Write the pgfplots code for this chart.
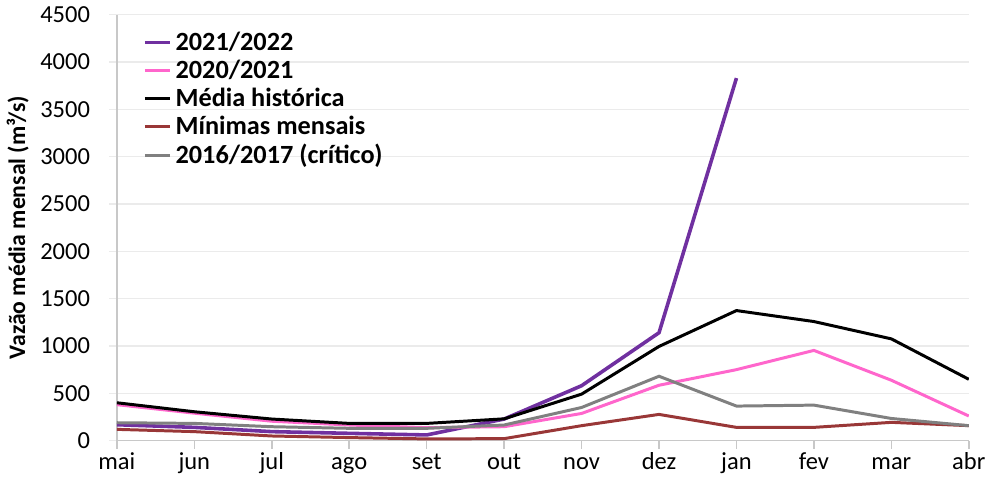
\documentclass[border=0pt]{standalone}
\usepackage{fontspec}
\setmainfont{Carlito}
\usepackage{pgfplots}
\pgfplotsset{compat=1.18}
\definecolor{roxo}{HTML}{7030A0}
\definecolor{rosa}{HTML}{FF66CC}
\definecolor{vermelho}{HTML}{993737}
\definecolor{cinza}{HTML}{808080}
\definecolor{grade}{HTML}{EBEBEB}
\definecolor{eixo}{HTML}{C8C8C8}
\begin{document}
\begin{tikzpicture}
\begin{axis}[
    scale only axis,
    width=428pt, height=214pt,
    xmin=0, xmax=11, ymin=0, ymax=4500,
    axis lines=left,
    axis line style={eixo, line width=0.8pt, -},
    xtick={0,...,11},
    xticklabels={mai,jun,jul,ago,set,out,nov,dez,jan,fev,mar,abr},
    ytick={0,500,...,4500},
    ymajorgrids,
    grid style={grade, line width=0.6pt},
    x tick style={eixo, line width=0.8pt},
    y tick style={grade, line width=0.6pt},
    tick align=outside,
    major tick length=4pt,
    tick label style={font=\fontsize{12.3}{14}\selectfont},
    x tick label style={text height=0.72em, text depth=0.22em, inner ysep=3pt},
    y tick label style={xshift=-6pt},
    /pgf/number format/assume math mode=true,
    /pgf/number format/1000 sep={},
    ylabel={\textbf{Vazão média mensal (m³/s)}},
    ylabel style={font=\fontsize{11.9}{13}\selectfont, yshift=-1pt},
    legend style={at={(0.028,0.975)}, anchor=north west, draw=none, fill=none,
      font=\fontsize{13.2}{15}\selectfont\bfseries, row sep=-0.6pt,
      inner sep=1pt},
    legend cell align=left,
    legend image code/.code={\draw[#1] (0pt,0pt) -- (12.5pt,0pt);},
]
\addplot[roxo, line width=1.8pt] coordinates {
  (0,168) (1,140) (2,95) (3,77) (4,60) (5,228) (6,580) (7,1140) (8,3830)
};
\addlegendentry{2021/2022}
\addplot[rosa, line width=1.5pt] coordinates {
  (0,380) (1,290) (2,205) (3,165) (4,137) (5,147) (6,287) (7,585) (8,750) (9,953) (10,638) (11,260)
};
\addlegendentry{2020/2021}
\addplot[black, line width=1.5pt] coordinates {
  (0,400) (1,305) (2,228) (3,182) (4,182) (5,230) (6,491) (7,995) (8,1374) (9,1258) (10,1075) (11,648)
};
\addlegendentry{Média histórica}
\addplot[vermelho, line width=1.5pt] coordinates {
  (0,119) (1,95) (2,49) (3,32) (4,18) (5,21) (6,158) (7,277) (8,140) (9,140) (10,193) (11,158)
};
\addlegendentry{Mínimas mensais}
\addplot[cinza, line width=1.5pt] coordinates {
  (0,189) (1,182) (2,147) (3,130) (4,130) (5,165) (6,350) (7,680) (8,365) (9,375) (10,234) (11,158)
};
\addlegendentry{2016/2017 (crítico)}
\end{axis}
\end{tikzpicture}
\end{document}
